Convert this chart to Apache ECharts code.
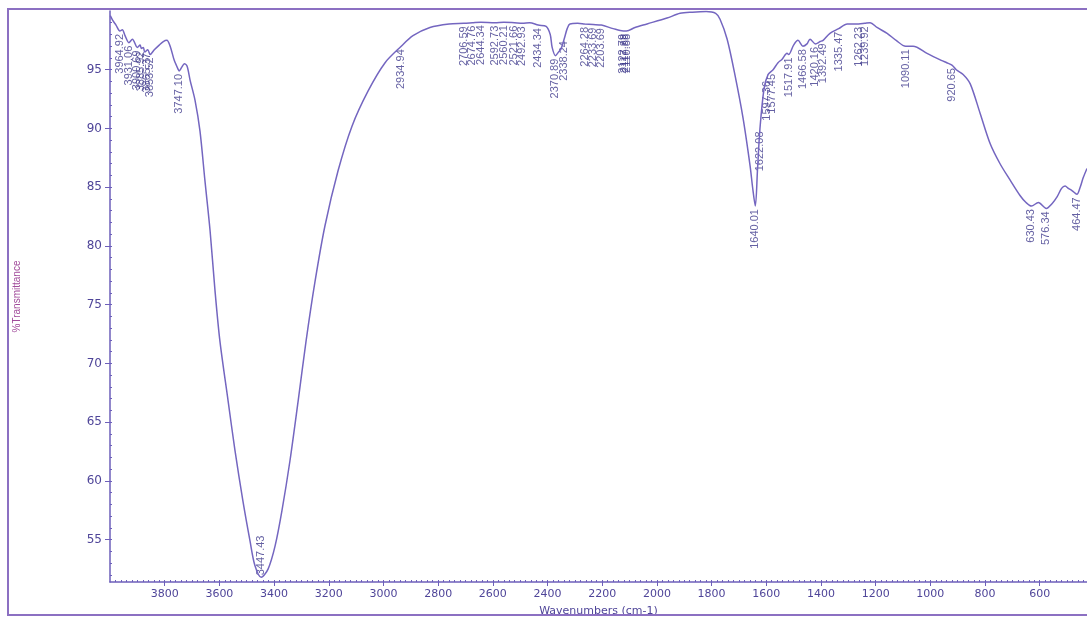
<!DOCTYPE html>
<html>
<head>
<meta charset="utf-8">
<script src="https://cdn.jsdelivr.net/npm/echarts@6/dist/echarts.min.js"></script>
<style>
html,body{margin:0;padding:0;background:#fff;}
#chart{width:1087px;height:617px;}
</style>
</head>
<body>
<div id="chart"></div>
<script>
// Spectrum trace (wavenumber, %T)
const wavenumbers = [3999,3990,3978,3964,3955,3945,3931,3918,3900,3890,3885,3878,3873,3862,3853,3838,3820,3805,3792,3780,3765,3750,3747,3738,3728,3718,3707,3689,3671,3653,3634,3616,3598,3568,3543,3514,3488,3470,3447,3422,3396,3371,3342,3312,3283,3250,3214,3166,3115,3056,2994,2935,2892,2830,2760,2706,2675,2644,2592,2560,2521,2492,2465,2434,2405,2390,2383,2371,2360,2350,2338,2328,2318,2290,2264,2233,2203,2160,2123,2111,2080,2036,1963,1915,1870,1820,1785,1769,1743,1714,1685,1659,1650,1640,1632,1623,1608,1593,1575,1557,1542,1524,1518,1500,1484,1466,1451,1440,1420,1403,1392,1367,1335,1304,1262,1240,1220,1195,1158,1125,1090,1063,1012,960,940,921,905,880,854,818,781,745,708,672,650,630,605,576,555,536,520,507,495,481,464,452,441,427];
const transmittance = [99.6,99.2,98.8,98.3,98.4,97.9,97.3,97.6,96.9,97.1,96.8,96.9,96.5,96.7,96.3,96.7,97.1,97.4,97.5,97.0,95.8,95.0,94.9,95.2,95.5,95.3,94.1,92.4,89.8,85.6,81.3,76.2,71.9,66.8,62.6,58.3,54.9,52.8,51.8,52.5,54.5,57.5,61.7,66.8,71.9,77.0,81.7,86.4,90.2,93.2,95.6,97.0,97.9,98.6,98.9,98.95,99.0,99.05,99.0,99.05,99.0,98.95,99.0,98.8,98.7,98.0,96.9,96.2,96.5,96.8,97.7,98.5,98.9,98.95,98.9,98.85,98.8,98.5,98.3,98.3,98.6,98.9,99.4,99.8,99.9,99.95,99.8,99.3,97.6,94.5,90.9,86.8,85.0,83.4,86.5,90.0,93.4,94.6,95.0,95.6,95.9,96.4,96.3,97.1,97.5,97.0,97.2,97.6,97.2,97.4,97.5,98.1,98.5,98.9,98.9,98.95,99.0,98.6,98.1,97.5,97.0,97.0,96.4,95.8,95.6,95.4,95.0,94.6,93.8,91.3,88.7,87.0,85.6,84.3,83.7,83.4,83.7,83.2,83.6,84.2,84.9,85.1,84.9,84.7,84.4,85.0,85.8,86.6];

// Peak annotations
const peakWavenumbers = [3964.92,3931.06,3900.69,3885.92,3865.37,3853.52,3747.10,3447.43,2934.94,2706.59,2674.76,2644.34,2592.73,2560.21,2521.66,2492.93,2434.34,2370.89,2338.24,2264.28,2233.69,2203.69,2122.79,2117.88,2110.88,1640.01,1622.08,1597.36,1577.45,1517.91,1466.58,1420.16,1392.49,1335.47,1262.23,1239.92,1090.11,920.65,630.43,576.34,464.47];
const peakTransmittance = [98.3,97.3,96.9,96.8,96.7,96.3,94.9,51.8,97.0,98.95,99.0,99.05,99.0,99.05,99.0,98.95,98.8,96.2,97.7,98.9,98.85,98.8,98.3,98.3,98.3,83.4,90.0,94.3,94.9,96.3,97.0,97.2,97.5,98.5,98.9,98.95,97.0,95.4,83.4,83.2,84.4];

const xTicks = [3800,3600,3400,3200,3000,2800,2600,2400,2200,2000,1800,1600,1400,1200,1000,800,600];
const yTicks = [55,60,65,70,75,80,85,90,95];

const xMinor = []; for (let v = 440; v <= 3980; v += 20) xMinor.push(v);
const yMinor = []; for (let v = 52; v <= 99; v += 1) yMinor.push(v);

const axisColor = '#6d5fba';
const textColor = '#4f4599';

const lineData = wavenumbers.map((w, i) => [w, transmittance[i]]);
const peakData = peakWavenumbers.map((w, i) => {
  const item = { value: [w, peakTransmittance[i]] };
  if (w === 3447.43) {
    item.label = { position: [0, -2], align: 'left' };
  }
  return item;
});

const chart = echarts.init(document.getElementById('chart'));
chart.setOption({
  animation: false,
  backgroundColor: '#ffffff',
  grid: { left: 110, right: 0, top: 11, bottom: 35, outerBoundsMode: 'none', containLabel: false },
  graphic: [{
    type: 'rect', z: 100, silent: true,
    shape: { x: 8, y: 9, width: 1100, height: 606 },
    style: { fill: 'none', stroke: '#8c70c2', lineWidth: 2 }
  }],
  xAxis: [{
    type: 'value', min: 427, max: 4000, inverse: true, position: 'bottom',
    axisLine: { show: true, onZero: false, lineStyle: { color: axisColor, width: 1.5 } },
    axisTick: { show: true, customValues: xTicks, length: 4, lineStyle: { color: axisColor } },
    axisLabel: { customValues: xTicks, color: textColor, fontSize: 11, fontFamily: 'DejaVu Sans', margin: 7, formatter: v => String(v) },
    splitLine: { show: false },
    name: 'Wavenumbers (cm-1)', nameLocation: 'middle', nameGap: 24,
    nameTextStyle: { color: textColor, fontSize: 11, fontFamily: 'DejaVu Sans' }
  }, {
    type: 'value', min: 427, max: 4000, inverse: true, position: 'bottom',
    axisLine: { show: false },
    axisTick: { show: true, customValues: xMinor, inside: true, length: 2, lineStyle: { color: axisColor } },
    axisLabel: { show: false },
    splitLine: { show: false }
  }],
  yAxis: [{
    type: 'value', min: 51.4, max: 100, position: 'left',
    axisLine: { show: true, onZero: false, lineStyle: { color: axisColor, width: 1.5 } },
    axisTick: { show: true, customValues: yTicks, length: 5, lineStyle: { color: axisColor } },
    axisLabel: { customValues: yTicks, color: textColor, fontSize: 12, fontFamily: 'DejaVu Sans', margin: 8, formatter: v => String(v) },
    splitLine: { show: false },
    name: '%Transmittance', nameLocation: 'middle', nameGap: 88,
    nameTextStyle: { color: '#a04a9a', fontSize: 10, fontFamily: 'Liberation Sans' }
  }, {
    type: 'value', min: 51.4, max: 100, position: 'left', offset: 0,
    axisLine: { show: false },
    axisTick: { show: true, customValues: yMinor, inside: true, length: 2, lineStyle: { color: axisColor } },
    axisLabel: { show: false },
    splitLine: { show: false }
  }],
  series: [{
    type: 'line',
    xAxisIndex: 0, yAxisIndex: 0,
    data: lineData,
    showSymbol: false,
    smooth: 0.3,
    lineStyle: { color: '#7466c0', width: 1.5 },
    silent: true
  }, {
    type: 'scatter',
    xAxisIndex: 0, yAxisIndex: 0,
    data: peakData,
    symbolSize: 0,
    silent: true,
    label: {
      show: true,
      rotate: 90,
      position: [0, 3],
      align: 'right',
      verticalAlign: 'middle',
      fontSize: 11,
      fontFamily: 'Liberation Sans',
      color: '#3f3a8c',
      formatter: p => p.value[0].toFixed(2)
    },
    labelLayout: { hideOverlap: false }
  }]
});
</script>
</body>
</html>
